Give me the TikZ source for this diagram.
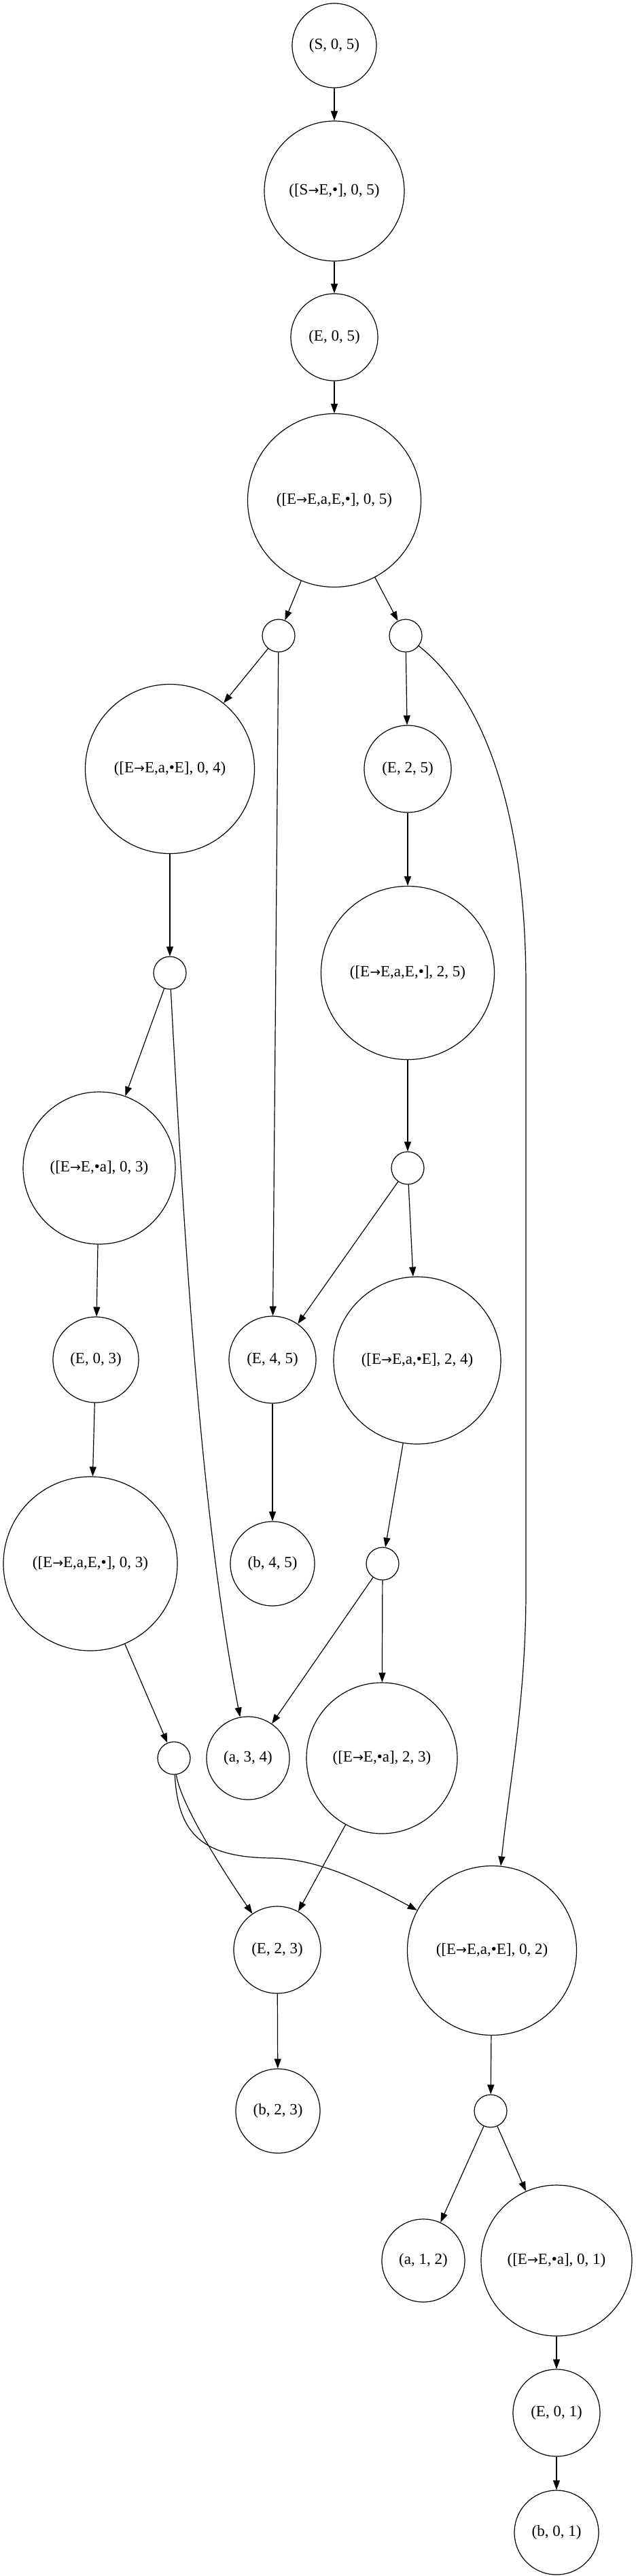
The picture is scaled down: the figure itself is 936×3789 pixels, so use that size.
\documentclass[tikz,border=0pt]{standalone}
\usepackage{fontspec}
\setmainfont{Liberation Serif}
\newfontfamily\arrowfont{DejaVu Sans}
\newcommand{\myarr}{{\arrowfont\fontsize{9.5pt}{10pt}\selectfont →}}
\usetikzlibrary{arrows.meta}
\tikzset{
  nd/.style={circle,draw,line width=0.6pt,inner sep=0pt,minimum size=#1*0.5pt,font=\fontsize{11.5pt}{13pt}\selectfont},
  ar/.style={-{Triangle[length=7pt,width=5pt]},line width=0.6pt}
}
\begin{document}
\begin{tikzpicture}[x=0.5pt,y=-0.5pt]
\useasboundingbox (0,0) rectangle (936,3789);
\fill[white] (0,0) rectangle (936,3789);
% nodes
\node[nd=124] (S05) at (492,67) {(S, 0, 5)};
\node[nd=206] (SE05) at (492,281) {([S\myarr E,•], 0, 5)};
\node[nd=128] (E05) at (492,496) {(E, 0, 5)};
\node[nd=255] (EaE05) at (492,736) {([E\myarr E,a,E,•], 0, 5)};
\node[nd=48] (p1) at (410,935) {};
\node[nd=48] (p2) at (597,935) {};
\node[nd=249] (EbE04) at (250,1131) {([E\myarr E,a,•E], 0, 4)};
\node[nd=128] (E25) at (600,1131) {(E, 2, 5)};
\node[nd=48] (p3) at (250,1431) {};
\node[nd=255] (EaE25) at (600,1431) {([E\myarr E,a,E,•], 2, 5)};
\node[nd=224] (Eba03) at (146,1718) {([E\myarr E,•a], 0, 3)};
\node[nd=48] (p4) at (600,1718) {};
\node[nd=126] (E03) at (141,2000) {(E, 0, 3)};
\node[nd=128] (E45) at (401,2000) {(E, 4, 5)};
\node[nd=246] (EbE24) at (614,2001) {([E\myarr E,a,•E], 2, 4)};
\node[nd=256] (EaE03) at (133,2300) {([E\myarr E,a,E,•], 0, 3)};
\node[nd=124] (b45) at (401,2300) {(b, 4, 5)};
\node[nd=48] (p5) at (563,2300) {};
\node[nd=48] (p6) at (256,2586) {};
\node[nd=122] (a34) at (365,2586) {(a, 3, 4)};
\node[nd=222] (Eba23) at (562,2586) {([E\myarr E,•a], 2, 3)};
\node[nd=128] (E23) at (408,2868) {(E, 2, 3)};
\node[nd=249] (EbE02) at (724,2869) {([E\myarr E,a,•E], 0, 2)};
\node[nd=124] (b23) at (409,3105) {(b, 2, 3)};
\node[nd=48] (p7) at (722,3105) {};
\node[nd=122] (a12) at (623,3325) {(a, 1, 2)};
\node[nd=222] (Eba01) at (819,3325) {([E\myarr E,•a], 0, 1)};
\node[nd=128] (E01) at (819,3549) {(E, 0, 1)};
\node[nd=124] (b01) at (819,3725) {(b, 0, 1)};
% edges
\draw[ar] (S05) -- (SE05);
\draw[ar] (SE05) -- (E05);
\draw[ar] (E05) -- (EaE05);
\draw[ar] (EaE05) -- (p1);
\draw[ar] (EaE05) -- (p2);
\draw[ar] (p1) -- (EbE04);
\draw[ar] (p1) -- (E45);
\draw[ar] (p2) -- (E25);
\draw[ar] (p2) .. controls (705,1020) and (774,1180) .. (774,1450) -- (774,2340) .. controls (774,2500) and (750,2620) .. (EbE02);
\draw[ar] (E25) -- (EaE25);
\draw[ar] (EbE04) -- (p3);
\draw[ar] (p3) -- (Eba03);
\draw[ar] (p3) .. controls (275,1900) and (300,2250) .. (a34);
\draw[ar] (EaE25) -- (p4);
\draw[ar] (p4) -- (E45);
\draw[ar] (p4) -- (EbE24);
\draw[ar] (Eba03) -- (E03);
\draw[ar] (E03) -- (EaE03);
\draw[ar] (E45) -- (b45);
\draw[ar] (EbE24) -- (p5);
\draw[ar] (EaE03) -- (p6);
\draw[ar] (p5) -- (a34);
\draw[ar] (p5) -- (Eba23);
\draw[ar] (p6) .. controls (265,2650) and (320,2740) .. (E23);
\draw[ar] (p6) .. controls (262,2700) and (300,2732) .. (400,2733) .. controls (470,2734) and (540,2770) .. (EbE02);
\draw[ar] (Eba23) -- (E23);
\draw[ar] (E23) -- (b23);
\draw[ar] (EbE02) -- (p7);
\draw[ar] (p7) -- (a12);
\draw[ar] (p7) -- (Eba01);
\draw[ar] (Eba01) -- (E01);
\draw[ar] (E01) -- (b01);
\end{tikzpicture}
\end{document}
